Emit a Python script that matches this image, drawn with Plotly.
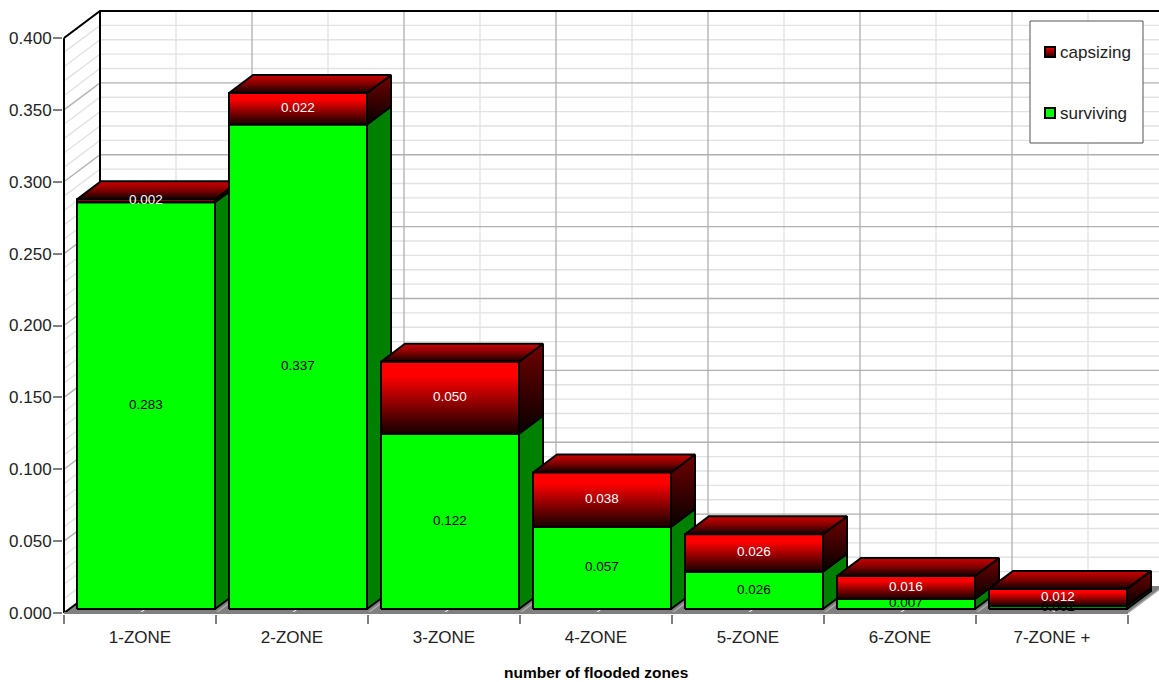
import plotly.graph_objects as go

categories = ["1-ZONE", "2-ZONE", "3-ZONE", "4-ZONE", "5-ZONE", "6-ZONE", "7-ZONE +"]
surviving = [0.283, 0.337, 0.122, 0.057, 0.026, 0.007, 0.002]
capsizing = [0.002, 0.022, 0.050, 0.038, 0.026, 0.016, 0.012]
y_ticks = [0.0, 0.05, 0.1, 0.15, 0.2, 0.25, 0.3, 0.35, 0.4]
y_minor = [i / 100 for i in range(0, 41) if i % 5]
x_edges = list(range(8))
x_minor = [i + 0.5 for i in range(7)]

FONT = "Liberation Sans"
W, H = 1159, 682
X0, Y0 = 64, 613               # pixel of the chart origin
PX, PY = 152, 1437.5           # pixels per category, pixels per unit
L, B = X0 - 1, H - Y0 - 1      # plot area starts a pixel outside the origin so axis lines are not cut
WX, WY = 36 / PX, 27 / PY      # depth of the walls
DX, DY = 24 / PX, 18 / PY      # depth of a bar
LIFT = 4 / PY                  # bars stand slightly above the axis line
BX0, BX1 = 13 / PX, 151 / PX   # bar edges inside a category

MAJOR, MINOR = "#b0b0b0", "#e2e2e2"
RED_FRONT = [[0, "#1a0000"], [0.1, "#300000"], [0.8, "#ff0000"], [1, "#ff0000"]]
RED_TOP = [[0, "#100000"], [0.5, "#800000"], [1, "#d00000"]]
RED_SIDE = [[0, "#080000"], [1, "#700000"]]


def px_x(p):
    return (p - X0) / PX


def px_y(p):
    return (Y0 - p) / PY


mids = [i + (BX0 + BX1) / 2 for i in range(7)]
fig = go.Figure()

# the stacked bars themselves (their front faces are repainted in depth order below)
fig.add_trace(go.Bar(x=mids, y=surviving, base=[LIFT] * 7, width=BX1 - BX0, name="surviving",
                     marker=dict(color="#00ff00", line=dict(color="black", width=2)), showlegend=False))
fig.add_trace(go.Bar(x=mids, y=capsizing, base=[LIFT + s for s in surviving], width=BX1 - BX0, name="capsizing",
                     marker=dict(color="#ff0000", line=dict(color="black", width=2)), showlegend=False))


def lines(xs, ys, color, width):
    fig.add_trace(go.Scatter(x=xs, y=ys, mode="lines", line=dict(color=color, width=width),
                             showlegend=False, hoverinfo="skip"))


def face(xs, ys, color=None, scale=None, line="black", width=2):
    kw = dict(fillcolor=color) if scale is None else dict(
        fillgradient=dict(type="vertical", colorscale=scale))
    fig.add_trace(go.Scatter(x=xs + xs[:1], y=ys + ys[:1], mode="lines", fill="toself",
                             line=dict(color=line, width=width),
                             showlegend=False, hoverinfo="skip", **kw))


# white backdrop, so that the bar layer stays hidden behind the walls
face([0, WX, 7 + WX, 7 + WX, 7, 0], [0, WY, WY, 0.4 + WY, 0.4 + WY, 0.4], color="white", line="white", width=0)
# floor
face([0, 7, 7 + WX, WX], [0, 0, WY, WY], color="#808080", line="#808080", width=0)


def grid(hvals, vvals, color):
    xs, ys = [], []
    for v in hvals:
        xs += [0, WX, 7 + WX, None]
        ys += [v, v + WY, v + WY, None]
    for k in vvals:
        xs += [k, k + WX, k + WX, None]
        ys += [0, WY, 0.4 + WY, None]
    lines(xs, ys, color, 1.3)


grid(y_minor, x_minor, MINOR)
grid(y_ticks[1:], x_edges[1:], MAJOR)

# wall outlines and axis lines
lines([0, WX, 7 + WX, None, WX, WX, None, 0, WX, None, 0, 0],
      [0.4, 0.4 + WY, 0.4 + WY, None, 0.4 + WY, WY, None, 0, WY, None, 0, 0.4], "black", 2)
lines([0, 7], [0, 0], "#808080", 2)

# bars, left to right so that each one covers the side of the one before
for i in range(7):
    x0, x1 = i + BX0, i + BX1
    y0 = LIFT
    y1 = y0 + surviving[i]
    y2 = y1 + capsizing[i]
    face([x1, x1 + DX, x1 + DX, x1], [y0, y0 + DY, y1 + DY, y1], color="#008000")
    face([x1, x1 + DX, x1 + DX, x1], [y1, y1 + DY, y2 + DY, y2], scale=RED_SIDE)
    face([x0, x1, x1 + DX, x0 + DX], [y2, y2, y2 + DY, y2 + DY], scale=RED_TOP)
    face([x0, x1, x1, x0], [y0, y0, y1, y1], color="#00ff00")
    face([x0, x1, x1, x0], [y1, y1, y2, y2], scale=RED_FRONT)

# value labels
fig.add_trace(go.Scatter(x=mids, y=[LIFT + s / 2 for s in surviving], mode="text",
                         text=[f"{s:.3f}" for s in surviving],
                         textfont=dict(family=FONT, size=13.5, color="black"), textposition="middle center",
                         showlegend=False, hoverinfo="skip"))
fig.add_trace(go.Scatter(x=mids, y=[LIFT + s + c / 2 for s, c in zip(surviving, capsizing)], mode="text",
                         text=[f"{c:.3f}" for c in capsizing],
                         textfont=dict(family=FONT, size=13.5, color="white"), textposition="middle center",
                         showlegend=False, hoverinfo="skip"))

# legend box and entries
face([px_x(1030), px_x(1143), px_x(1143), px_x(1030)], [px_y(143), px_y(143), px_y(21), px_y(21)],
     color="white", line="#555555", width=1)
fig.add_trace(go.Scatter(x=[px_x(1050)], y=[px_y(52)], mode="markers", showlegend=False, hoverinfo="skip",
                         marker=dict(symbol="square", size=10, color="#ff0000",
                                     gradient=dict(type="vertical", color="#200000"),
                                     line=dict(color="black", width=2))))
fig.add_trace(go.Scatter(x=[px_x(1050)], y=[px_y(113)], mode="markers", showlegend=False, hoverinfo="skip",
                         marker=dict(symbol="square", size=10, color="#00ff00",
                                     line=dict(color="black", width=2))))
notes = [dict(x=px_x(1058), y=px_y(yp), xref="x", yref="y", text=t, showarrow=False, xanchor="left",
              yanchor="middle", font=dict(family=FONT, size=17, color="#222222"))
         for t, yp in (("capsizing", 52), ("surviving", 113))]
notes.append(dict(x=3.5, y=((H - B) - 672) / (H - B), xref="x", yref="paper", text="number of flooded zones",
                  showarrow=False, xanchor="center", yanchor="middle",
                  font=dict(family=FONT, size=15.5, color="black", weight="bold")))

fig.update_layout(
    width=W, height=H, margin=dict(l=L, r=0, t=0, b=B, autoexpand=False), autosize=False,
    paper_bgcolor="white", plot_bgcolor="white", barmode="overlay", showlegend=False,
    font=dict(family=FONT, size=17, color="#222222"),
    annotations=notes,
    xaxis=dict(range=[px_x(L), px_x(W)], tickmode="array", tickvals=[i + 0.5 for i in range(7)], ticktext=categories,
               ticks="outside", ticklen=8, tickcolor="rgba(0,0,0,0)", showgrid=False, zeroline=False,
               showline=False,
               minor=dict(ticks="outside", tickmode="array", tickvals=x_edges, ticklen=9, tickwidth=2,
                          tickcolor="#808080", showgrid=False)),
    yaxis=dict(range=[px_y(H - B), px_y(0)], tickmode="array", tickvals=y_ticks,
               ticktext=[f"{v:.3f}" for v in y_ticks], tickfont=dict(size=17), ticklabelstandoff=-2,
               ticks="outside", ticklen=9, tickwidth=2, tickcolor="#808080", showgrid=False, zeroline=False,
               showline=False),
)

fig.write_html("out.html", config={"displayModeBar": False}, post_script="document.body.style.margin='0';")
